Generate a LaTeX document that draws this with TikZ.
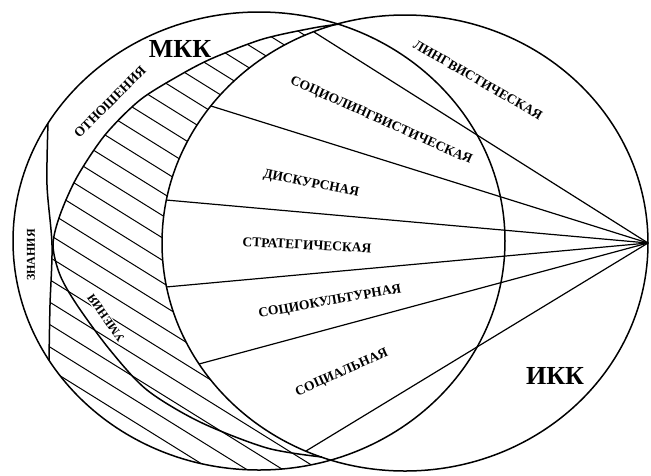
\documentclass[tikz,border=0pt]{standalone}
\usepackage{fontspec}
\setmainfont{Liberation Serif}
\usepackage{tikz}
% left edge of the hatched band (top to bottom)
\newcommand{\bandedge}{(340,24) (313,28) (263,39) (213,58) (180,75) (140,100) (105,135) (77,177) (60,215) (53,245) (60,275) (77,305) (110,350) (147,390) (200,422) (267,448) (322,457)}
\newcommand{\bandlow}{(322,457) (267,448) (200,422) (147,390) (110,350) (77,305) (60,275) (53,245)}

\begin{document}
\begin{tikzpicture}[x=1pt,y=-1pt,
  every node/.style={font=\bfseries\fontsize{13.5}{15}\selectfont,inner sep=1pt},
  bigname/.style={font=\bfseries\fontsize{26}{28}\selectfont},
  smallname/.style={font=\bfseries\fontsize{12}{13}\selectfont},
  outline/.style={line width=1.5pt},
  ray/.style={line width=1.2pt},
  hatch/.style={line width=1pt}
]
\useasboundingbox (0,0) rectangle (651,475);
\coordinate (mkkc) at (259,241);
\coordinate (ikkc) at (405,243);
\coordinate (P) at (648,243);
% ray ends on the left arc of IKK
\coordinate (s1) at (314,32);
\coordinate (s2) at (211,106);
\coordinate (s3) at (166,200);
\coordinate (s4) at (166,287);
\coordinate (s5) at (199,364);
\coordinate (s6) at (306,451);

% hatching, upper band
\begin{scope}
  \clip plot[smooth] coordinates {\bandedge}
    -- plot[domain=110:254.5,samples=50] ({405+243*cos(\x)},{243+228*sin(\x)}) -- cycle;
  \foreach \k in {-24,...,10}
    \draw[hatch] (\k*36,-20) -- ++(900,560);
\end{scope}
% hatching, lower part
\begin{scope}
  \clip (mkkc) ellipse [x radius=246, y radius=229];
  \clip plot[smooth] coordinates {(53,245) (51,300) (49,360)} -- (0,475) -- (330,475)
    -- plot[smooth] coordinates {\bandlow} -- cycle;
  \foreach \k in {-24,...,10}
    \draw[hatch] (\k*36,-20) -- ++(900,560);
\end{scope}

% circles
\draw[outline] (mkkc) ellipse [x radius=246, y radius=229];
\draw[outline] (ikkc) ellipse [x radius=243, y radius=228];
\draw[outline] plot[smooth] coordinates {\bandedge};
\draw[outline] plot[smooth] coordinates {(48,123) (47,185) (52,245) (50,305) (49,360)};

% rays
\foreach \i in {1,...,6}
  \draw[ray] (P) -- (s\i);

% labels
\node[bigname] (mkk) at (180,49) {МКК};
\node[bigname] (ikk) at (555,376) {ИКК};
\node[rotate=-30] (lingv) at (478,80) {ЛИНГВИСТИЧЕСКАЯ};
\node[rotate=-24] (sociolingv) at (381,121) {СОЦИОЛИНГВИСТИЧЕСКАЯ};
\node[rotate=-11] (diskurs) at (311,184) {ДИСКУРСНАЯ};
\node[rotate=-3] (strateg) at (307,245) {СТРАТЕГИЧЕСКАЯ};
\node[rotate=10] (sociokult) at (330,302) {СОЦИОКУЛЬТУРНАЯ};
\node[rotate=24] (social) at (342,373) {СОЦИАЛЬНАЯ};
\node[rotate=45] (otnosh) at (110,102) {ОТНОШЕНИЯ};
\node[smallname,rotate=90] (znan) at (31,255) {ЗНАНИЯ};
\node[smallname,rotate=125,fill=white] (umen) at (106,318) {УМЕНИЯ};
\end{tikzpicture}
\end{document}
